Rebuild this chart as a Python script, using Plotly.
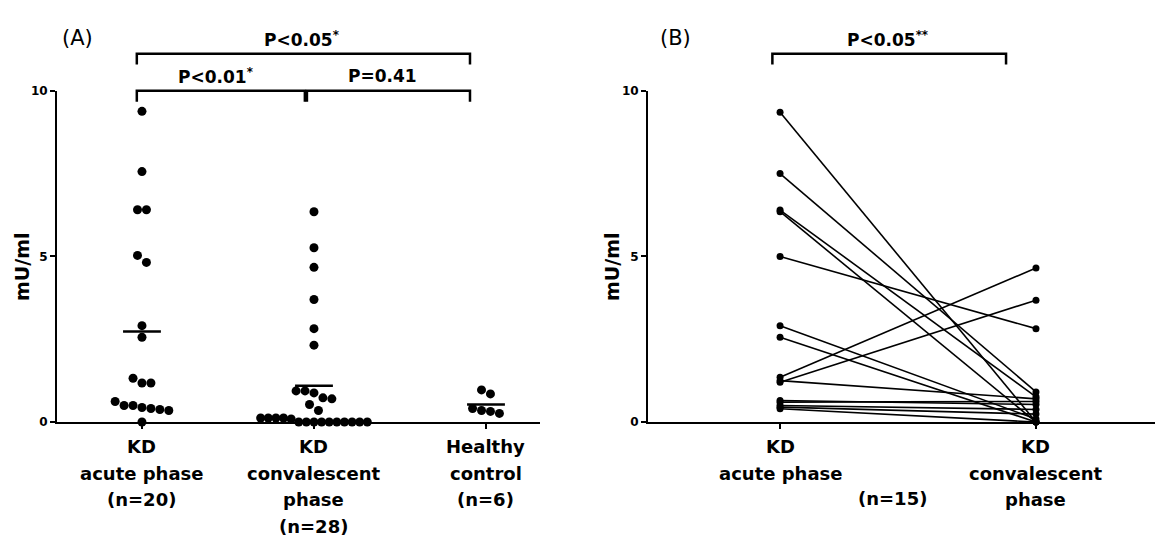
import numpy as np
import plotly.graph_objects as go

# ---------------- data ----------------
# Panel A: individual values (mU/ml)
a_categories = ["KD<br>acute phase<br>(n=20)", "KD<br>convalescent<br>phase<br>(n=28)", "Healthy<br>control<br>(n=6)"]
a_acute = [9.38, 7.56, 6.41, 6.41, 5.03, 4.82, 2.91, 2.56, 1.32, 1.18, 1.18,
           0.50, 0.50, 0.38, 0.35, 0.41, 0.44, 0.62, 0.0]
a_conv = [6.35, 5.26, 4.67, 3.70, 2.82, 2.32, 0.94, 0.88, 0.94, 0.73, 0.70, 0.53, 0.35,
          0.12, 0.12, 0.09, 0.0, 0.0, 0.0, 0.0, 0.0, 0.0, 0.0, 0.0, 0.0, 0.0, 0.12, 0.12]
a_healthy = [0.97, 0.85, 0.35, 0.26, 0.32, 0.41]

# Panel B: paired values (n=15)
b_categories = ["KD<br>acute phase", "KD<br>convalescent<br>phase"]
b_acute = [9.35, 7.5, 6.4, 6.35, 5.0, 2.91, 2.56, 1.35, 1.25, 1.2, 0.65, 0.6, 0.5, 0.45, 0.4]
b_conv = [0.0, 0.91, 0.76, 0.0, 2.82, 0.09, 0.0, 4.65, 0.7, 3.68, 0.53, 0.62, 0.38, 0.24, 0.0]

y_ticks = [0, 5, 10]

# comparisons: (label, left category, right category, level)
a_pvals = [("P<0.05<sup>*</sup>", 0, 2, 2), ("P<0.01<sup>*</sup>", 0, 1, 1), ("P=0.41", 1, 2, 1)]
b_pvals = [("P<0.05<sup>**</sup>", 0, 1, 2)]

# ---------------- helpers ----------------
BOLD = "DejaVu Sans"
W, H = 1155, 544


def swarm_offsets(vals, thr=0.3, step=0.052, max_w=0.62):
    vals = np.asarray(vals, dtype=float)
    order = np.argsort(-vals, kind="stable")
    offs = np.zeros(len(vals))
    rows, cur = [], []
    for idx in order:
        if cur and vals[cur[0]] - vals[idx] > thr:
            rows.append(cur)
            cur = []
        cur.append(idx)
    rows.append(cur)
    for r in rows:
        n = len(r)
        st = step if n < 2 else min(step, max_w / (n - 1))
        for k, idx in enumerate(r):
            offs[idx] = (k - (n - 1) / 2) * st
    return offs


fig = go.Figure()

# ---------------- panel A ----------------
groups = [a_acute, a_conv, a_healthy]
for i, g in enumerate(groups):
    xs = i + swarm_offsets(g)
    fig.add_trace(go.Scatter(x=xs, y=g, mode="markers", xaxis="x", yaxis="y",
                             marker=dict(color="black", size=9),
                             cliponaxis=False, showlegend=False, hoverinfo="y"))
    m = float(np.mean(g))
    fig.add_trace(go.Scatter(x=[i - 0.11, i + 0.11], y=[m, m], mode="lines",
                             xaxis="x", yaxis="y", line=dict(color="black", width=2.5),
                             showlegend=False, hoverinfo="skip", cliponaxis=False))

# ---------------- panel B ----------------
bx, by = [], []
for a, c in zip(b_acute, b_conv):
    bx += [0, 1, None]
    by += [a, c, None]
fig.add_trace(go.Scatter(x=bx, y=by, mode="lines+markers", xaxis="x2", yaxis="y2",
                         line=dict(color="black", width=1.6),
                         marker=dict(color="black", size=7),
                         cliponaxis=False, showlegend=False, hoverinfo="y"))

# ---------------- axes ----------------
y_dom = [118 / H, 458 / H]
axis_common = dict(showline=True, linecolor="black", linewidth=2, ticks="outside",
                   ticklen=5, tickwidth=2, tickcolor="black", showgrid=False,
                   zeroline=False, mirror=False)
tickfont = dict(family=BOLD, size=12, color="black", weight="bold")
fig.update_layout(
    width=W, height=H, margin=dict(l=0, r=0, t=0, b=0),
    paper_bgcolor="white", plot_bgcolor="white",
    xaxis=dict(domain=[57 / W, 540 / W], range=[-0.494, 2.314], anchor="y",
               tickvals=[0, 1, 2], showticklabels=False, **axis_common),
    yaxis=dict(domain=y_dom, range=[0, 10], anchor="x", tickvals=y_ticks,
               tickfont=tickfont, **axis_common),
    xaxis2=dict(domain=[648 / W, 1.0], range=[-0.516, 1.465], anchor="y2",
                tickvals=[0, 1], showticklabels=False, **axis_common),
    yaxis2=dict(domain=y_dom, range=[0, 10], anchor="x2", tickvals=y_ticks,
                tickfont=tickfont, **axis_common),
)

annotations = []
shapes = []

# category labels, one annotation per line for the original line spacing
LINE0 = -25 / 340   # first line centre (domain units below axis)
LSTEP = 27.5 / 340


def add_cat_labels(cats, xref, yref):
    for i, lab in enumerate(cats):
        for j, line in enumerate(lab.split("<br>")):
            annotations.append(dict(x=i, y=LINE0 - j * LSTEP, xref=xref, yref=yref,
                                    text=line, showarrow=False, xanchor="center",
                                    yanchor="middle",
                                    font=dict(family=BOLD, size=18, color="black", weight="bold")))


add_cat_labels(a_categories, "x", "y domain")
add_cat_labels(b_categories, "x2", "y2 domain")
annotations.append(dict(x=0.44, y=LINE0 - 2 * LSTEP + 0.005, xref="x2", yref="y2 domain",
                        text="(n=15)", showarrow=False, xanchor="center", yanchor="middle",
                        font=dict(family=BOLD, size=18, color="black", weight="bold")))

# y titles
for yr, px in [("y domain", 22), ("y2 domain", 612)]:
    annotations.append(dict(x=px / W, y=0.468, xref="paper", yref=yr, text="mU/ml",
                            textangle=-90, showarrow=False, xanchor="center", yanchor="middle",
                            font=dict(family=BOLD, size=19, color="black", weight="bold")))

# panel letters
for lab, px in [("(A)", 77), ("(B)", 675)]:
    annotations.append(dict(x=px / W, y=(H - 32) / H, xref="paper", yref="paper", text=lab,
                            showarrow=False, xanchor="center", yanchor="middle",
                            font=dict(family=BOLD, size=21, color="black")))

# significance brackets
LEVEL_Y = {1: 1.0, 2: 1.112}
DROP = 0.033
INSET = 0.03


def add_brackets(pvals, xref, yref, right_trim, label_pos):
    for k, (lab, c0, c1, lev) in enumerate(pvals):
        x0 = c0 - INSET
        x1 = c1 - right_trim
        if lev == 1:
            # adjacent brackets meet near the middle category
            if c1 == 1:
                x1 = c1 - 0.053
            if c0 == 1:
                x0 = c0 - 0.041
        yh = LEVEL_Y[lev]
        shapes.append(dict(type="path", xref=xref, yref=yref,
                           path=f"M {x0},{yh - DROP} L {x0},{yh} L {x1},{yh} L {x1},{yh - DROP}",
                           line=dict(color="black", width=2.5)))
        annotations.append(dict(x=label_pos[k], y=yh + 0.045, xref=xref, yref=yref, text=lab,
                                showarrow=False, xanchor="center", yanchor="middle",
                                font=dict(family=BOLD, size=17, color="black", weight="bold")))


add_brackets(a_pvals, "x", "y domain", 0.093, [0.93, 0.43, 1.40])
add_brackets(b_pvals, "x2", "y2 domain", 0.117, [0.418])

fig.update_layout(annotations=annotations, shapes=shapes)
fig.write_html("out.html", config={"displayModeBar": False},
               post_script="document.body.style.margin='0px';")
